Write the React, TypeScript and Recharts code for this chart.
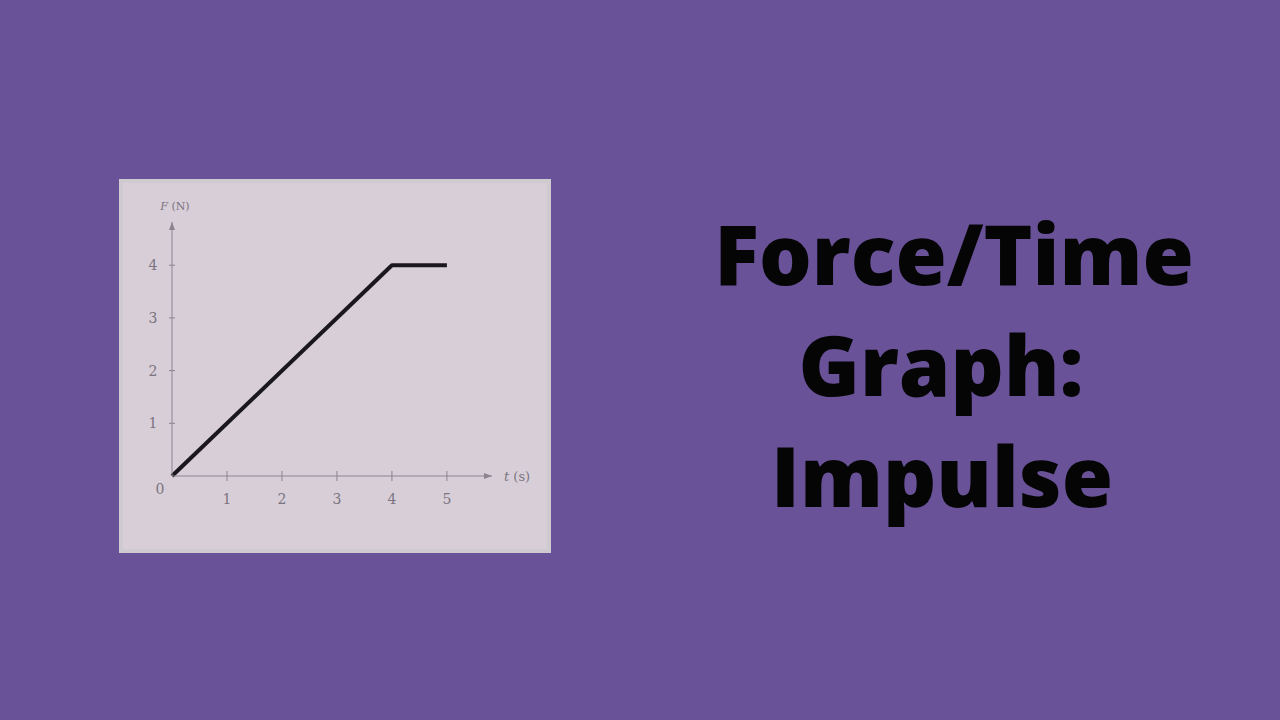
import React from 'react';
import { LineChart, Line, XAxis, YAxis, ReferenceDot } from 'recharts';

// values
const timeValues = [0, 4, 5];
const forceValues = [0, 4, 4];
const timeTicks = [1, 2, 3, 4, 5];
const forceTicks = [1, 2, 3, 4];
const xAxisEnd = 5.82;
const yAxisEnd = 4.82;
const titleLines = ['Force/Time', 'Graph:', 'Impulse'];

const data = timeValues.map((t, i) => ({ t, F: forceValues[i] }));

const axisColor = '#8a8490';
const labelColor = '#7a747f';
const serif = '"DejaVu Serif", "Liberation Serif", serif';

const XTick = (props: any) => {
  const { x, y, payload } = props;
  return (
    <g>
      <line x1={x} x2={x} y1={y - 5} y2={y + 5} stroke={axisColor} strokeWidth={1} />
      <text x={x} y={y + 28} textAnchor="middle" fill={labelColor} fontSize={14} fontFamily={serif}>
        {payload.value}
      </text>
    </g>
  );
};

const YTick = (props: any) => {
  const { x, y, payload } = props;
  return (
    <g>
      <line x1={x - 3} x2={x + 3} y1={y} y2={y} stroke={axisColor} strokeWidth={1} />
      <text x={x - 19} y={y + 5} textAnchor="middle" fill={labelColor} fontSize={14} fontFamily={serif}>
        {payload.value}
      </text>
    </g>
  );
};

const App: React.FC = () => {
  return (
    <div style={{ position: 'absolute', left: 0, top: 0, width: 1280, height: 720, background: '#6a5299', overflow: 'hidden' }}>
      {/* paper sheet */}
      <div
        style={{
          position: 'absolute',
          left: 119,
          top: 179,
          width: 432,
          height: 374,
          boxSizing: 'border-box',
          background: '#d8ced8',
          border: '4px solid #cfcad0',
        }}
      />

      <div style={{ position: 'absolute', left: 119, top: 179 }}>
        <LineChart width={432} height={374} data={data} margin={{ top: 43, right: 59, bottom: 57, left: 33 }}>
          <XAxis
            type="number"
            dataKey="t"
            domain={[0, xAxisEnd]}
            ticks={timeTicks}
            height={20}
            tickSize={0}
            tickMargin={0}
            tickLine={false}
            axisLine={{ stroke: axisColor, strokeWidth: 1 }}
            tick={<XTick />}
          />
          <YAxis
            type="number"
            domain={[0, yAxisEnd]}
            ticks={forceTicks}
            width={20}
            tickSize={0}
            tickMargin={0}
            tickLine={false}
            axisLine={{ stroke: axisColor, strokeWidth: 1 }}
            tick={<YTick />}
          />
          <Line
            type="linear"
            dataKey="F"
            stroke="#1a181d"
            strokeWidth={4}
            strokeLinejoin="round"
            dot={false}
            isAnimationActive={false}
          />
          {/* arrow heads and axis names */}
          <ReferenceDot
            x={xAxisEnd}
            y={0}
            ifOverflow="visible"
            shape={(p: any) => (
              <g>
                <path d={`M${p.cx - 8},${p.cy - 3} L${p.cx},${p.cy} L${p.cx - 8},${p.cy + 3} Z`} fill={axisColor} />
                <text x={p.cx + 12} y={p.cy + 5} fill={labelColor} fontSize={13} fontFamily={serif}>
                  <tspan fontStyle="italic">t</tspan> (s)
                </text>
              </g>
            )}
          />
          <ReferenceDot
            x={0}
            y={yAxisEnd}
            ifOverflow="visible"
            shape={(p: any) => (
              <g>
                <path d={`M${p.cx - 3},${p.cy + 8} L${p.cx},${p.cy} L${p.cx + 3},${p.cy + 8} Z`} fill={axisColor} />
                <text x={p.cx + 3} y={p.cy - 12} textAnchor="middle" fill={labelColor} fontSize={11} fontFamily={serif}>
                  <tspan fontStyle="italic">F</tspan> (N)
                </text>
              </g>
            )}
          />
          <ReferenceDot
            x={0}
            y={0}
            ifOverflow="visible"
            shape={(p: any) => (
              <text x={p.cx - 12} y={p.cy + 18} textAnchor="middle" fill={labelColor} fontSize={14} fontFamily={serif}>
                0
              </text>
            )}
          />
        </LineChart>
      </div>

      {/* title */}
      <svg width={1280} height={720} style={{ position: 'absolute', left: 0, top: 0 }}>
        {titleLines.map((line, i) => (
          <text
            key={line}
            x={[954, 941, 942][i]}
            y={285 + i * 111}
            textAnchor="middle"
            fill="#050505"
            fontSize={83}
            fontWeight={800}
            fontFamily='"Open Sans", "DejaVu Sans", sans-serif'
          >
            {line}
          </text>
        ))}
      </svg>
    </div>
  );
};

export default App;
